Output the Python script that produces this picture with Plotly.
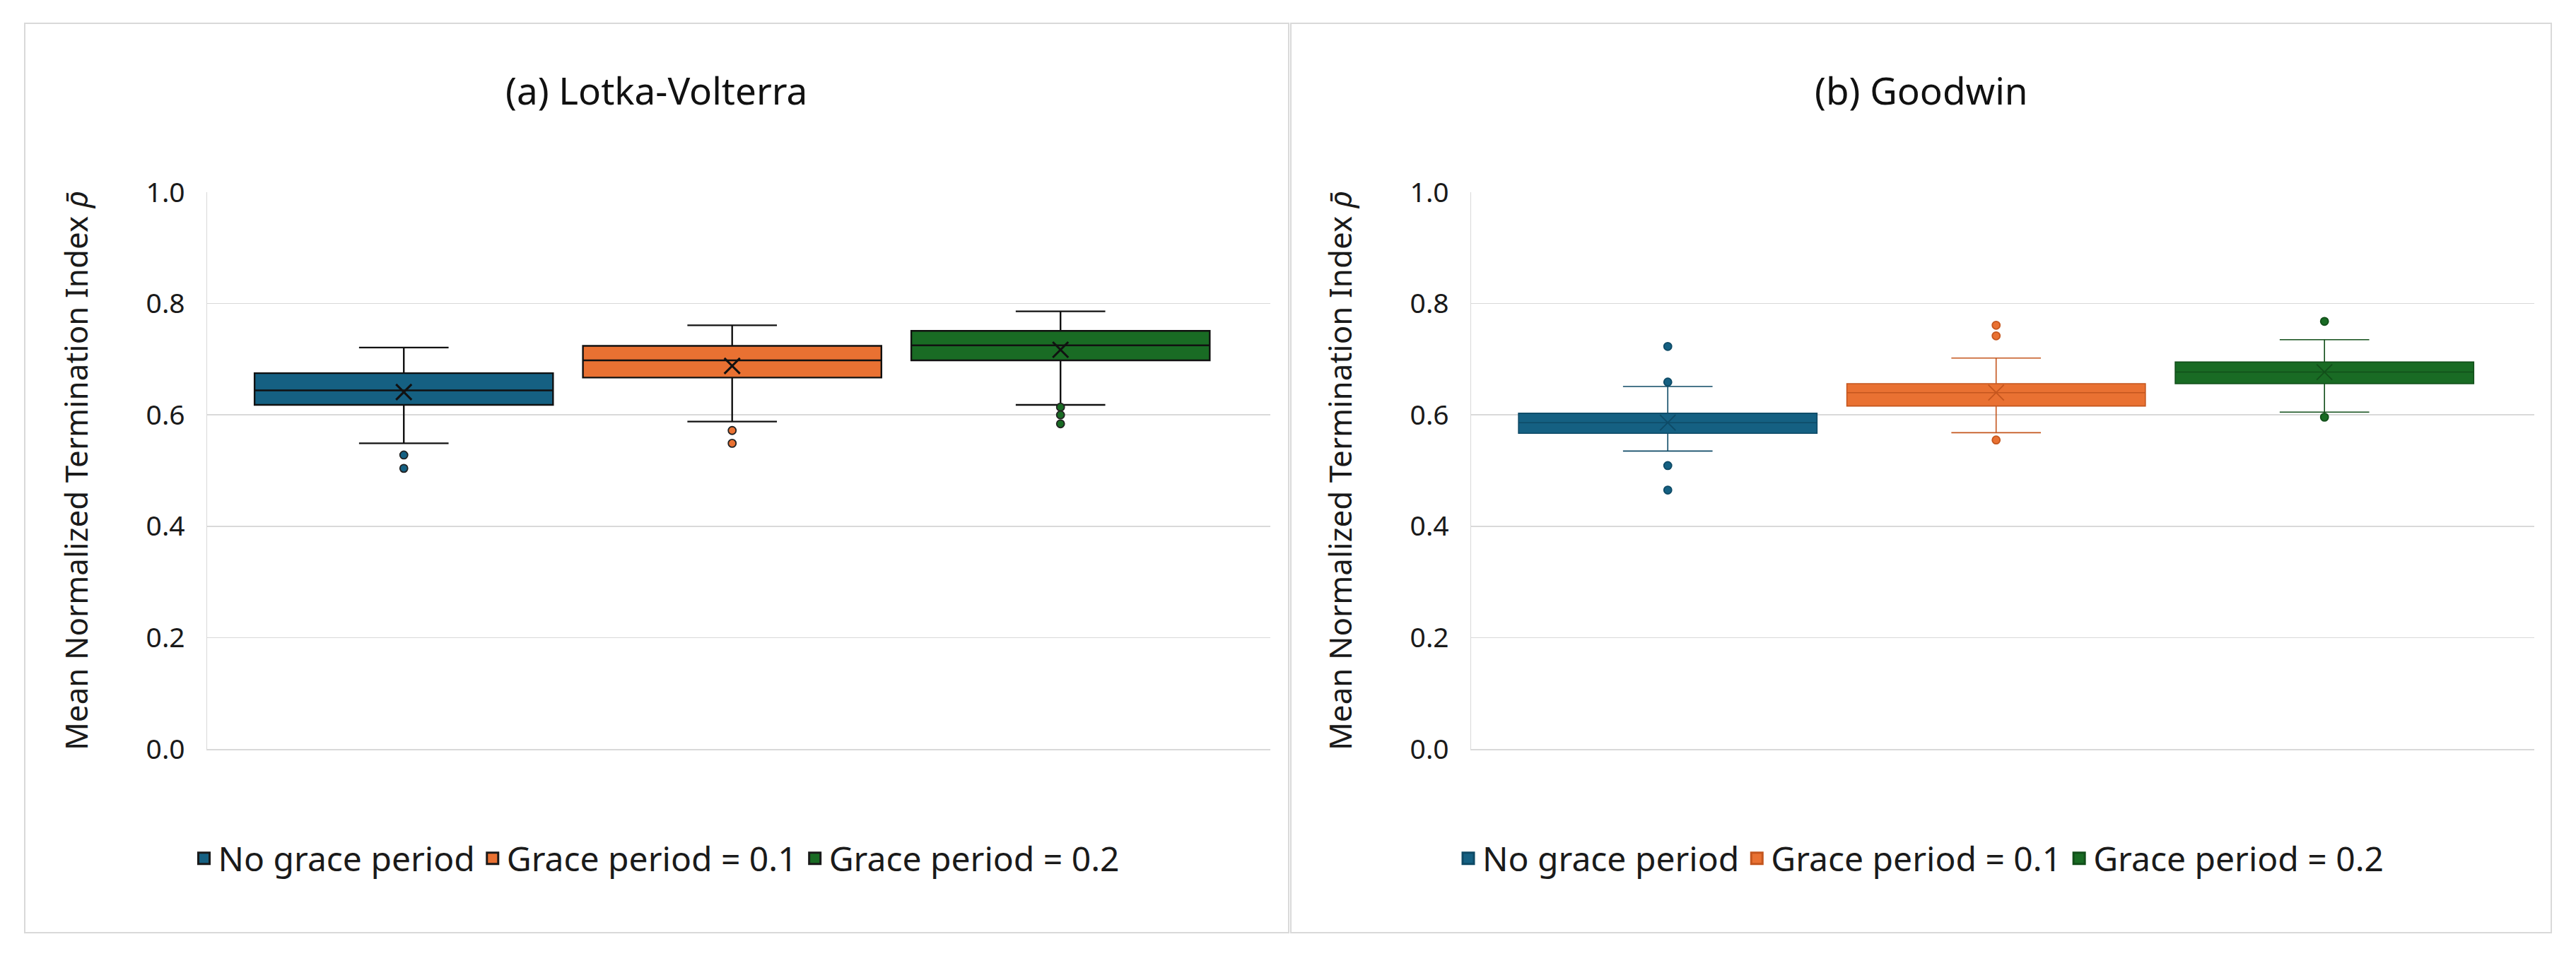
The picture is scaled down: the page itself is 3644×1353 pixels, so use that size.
import plotly.graph_objects as go

# ---------------- data ----------------
categories = ["No grace period", "Grace period = 0.1", "Grace period = 0.2"]

# (a) Lotka-Volterra
lv_q1 = [0.618, 0.667, 0.698]
lv_median = [0.644, 0.698, 0.725]
lv_q3 = [0.675, 0.724, 0.751]
lv_lower = [0.549, 0.588, 0.618]
lv_upper = [0.721, 0.761, 0.786]
lv_mean = [0.641, 0.688, 0.717]
lv_outliers = [[0.528, 0.504], [0.572, 0.549], [0.614, 0.600, 0.584]]

# (b) Goodwin
gw_q1 = [0.567, 0.616, 0.656]
gw_median = [0.586, 0.640, 0.677]
gw_q3 = [0.603, 0.656, 0.695]
gw_lower = [0.535, 0.568, 0.605]
gw_upper = [0.651, 0.702, 0.735]
gw_mean = [0.586, 0.640, 0.677]
gw_outliers = [[0.723, 0.659, 0.509, 0.465], [0.761, 0.742, 0.555], [0.768, 0.596]]

y_ticks = [0.0, 0.2, 0.4, 0.6, 0.8, 1.0]
panel_titles = ["(a) Lotka-Volterra", "(b) Goodwin"]
y_title = "Mean Normalized Termination Index <i>ρ̄</i>"

# ---------------- style ----------------
fill_colors = ["#156082", "#E97132", "#196B24"]
dark_colors = ["#0E4A66", "#C4561E", "#124F1A"]
FONT = "Noto Sans"
W, H = 3644, 1353
GRID = "#D9D9D9"


def px_x(p):
    return p / W


def px_y(p):
    return 1 - p / H


fig = go.Figure()

panels = [
    dict(q1=lv_q1, med=lv_median, q3=lv_q3, lo=lv_lower, hi=lv_upper, mean=lv_mean,
         outs=lv_outliers, xa="x", ya="y", legend="legend", dark=False),
    dict(q1=gw_q1, med=gw_median, q3=gw_q3, lo=gw_lower, hi=gw_upper, mean=gw_mean,
         outs=gw_outliers, xa="x2", ya="y2", legend="legend2", dark=True),
]

for p in panels:
    for i, cat in enumerate(categories):
        line_col = dark_colors[i] if p["dark"] else "#111111"
        lw = 1.6 if p["dark"] else 2.4
        fig.add_trace(go.Box(
            x=[cat], q1=[p["q1"][i]], median=[p["med"][i]], q3=[p["q3"][i]],
            lowerfence=[p["lo"][i]], upperfence=[p["hi"][i]],
            fillcolor=fill_colors[i], line=dict(color=line_col, width=lw),
            width=0.909, whiskerwidth=0.3, boxpoints=False,
            showlegend=False, hoverinfo="skip", xaxis=p["xa"], yaxis=p["ya"],
        ))
        # outliers
        fig.add_trace(go.Scatter(
            x=[cat] * len(p["outs"][i]), y=p["outs"][i], mode="markers",
            marker=dict(size=11, color=fill_colors[i],
                        line=dict(width=1.8, color=dark_colors[i] if p["dark"] else "#222222")),
            showlegend=False, hoverinfo="skip", xaxis=p["xa"], yaxis=p["ya"],
        ))
    # means
    fig.add_trace(go.Scatter(
        x=categories, y=p["mean"], mode="markers",
        marker=dict(symbol="x-thin", size=22,
                    line=dict(width=1.8 if p["dark"] else 3,
                              color=dark_colors if p["dark"] else "#111111")),
        showlegend=False, hoverinfo="skip", xaxis=p["xa"], yaxis=p["ya"],
    ))
    # legend entries
    for i, cat in enumerate(categories):
        fig.add_trace(go.Scatter(
            x=[None], y=[None], mode="markers", name=cat,
            marker=dict(symbol="square", size=16, color=fill_colors[i],
                        line=dict(width=3, color=dark_colors[i] if p["dark"] else "#1a1a1a")),
            legend=p["legend"], xaxis=p["xa"], yaxis=p["ya"], hoverinfo="skip",
        ))

xr = [-0.599, 2.639]
xaxis_common = dict(type="category", categoryorder="array", categoryarray=categories,
                    range=xr, showticklabels=False, showgrid=False, zeroline=False,
                    showline=True, linecolor=GRID, linewidth=1.5, ticks="", fixedrange=True)
yaxis_common = dict(range=[0, 1], tickvals=y_ticks, tickformat=".1f",
                    showgrid=True, gridcolor=GRID, gridwidth=1.5, zeroline=False,
                    showline=True, linecolor=GRID, linewidth=1.5, ticks="",
                    ticklabelstandoff=22,
                    tickfont=dict(family=FONT, size=39, color="#1a1a1a"),
                    title=dict(text=y_title, font=dict(family=FONT, size=44, color="#1a1a1a"),
                               standoff=68),
                    automargin=False, fixedrange=True)

plot_top, plot_bot = 272, 1060
frames = [(35, 1823), (1826, 3609)]
plot_x = [(293, 1797), (2081, 3585)]

layout = dict(
    width=W, height=H, margin=dict(l=0, r=0, t=0, b=0),
    paper_bgcolor="white", plot_bgcolor="white",
    font=dict(family=FONT, color="#1a1a1a"),
    xaxis=dict(domain=[px_x(plot_x[0][0]), px_x(plot_x[0][1])], anchor="y", **xaxis_common),
    yaxis=dict(domain=[px_y(plot_bot), px_y(plot_top)], anchor="x", **yaxis_common),
    xaxis2=dict(domain=[px_x(plot_x[1][0]), px_x(plot_x[1][1])], anchor="y2", **xaxis_common),
    yaxis2=dict(domain=[px_y(plot_bot), px_y(plot_top)], anchor="x2", **yaxis_common),
    showlegend=True,
    hovermode=False,
)

for k, (f0, f1) in zip(["legend", "legend2"], frames):
    layout[k] = dict(orientation="h", x=px_x((f0 + f1) / 2), xanchor="center",
                     y=px_y(1215), yanchor="middle",
                     font=dict(family=FONT, size=48, color="#1a1a1a"),
                     bgcolor="rgba(0,0,0,0)", itemclick=False, itemdoubleclick=False)

fig.update_layout(**layout)

shapes = []
for f0, f1 in frames:
    shapes.append(dict(type="rect", xref="paper", yref="paper",
                       x0=px_x(f0), x1=px_x(f1), y0=px_y(1320), y1=px_y(33),
                       line=dict(color=GRID, width=2), fillcolor="rgba(0,0,0,0)", layer="below"))
fig.update_layout(shapes=shapes)

for (f0, f1), t in zip(frames, panel_titles):
    fig.add_annotation(text=t, xref="paper", yref="paper", x=px_x((f0 + f1) / 2), y=px_y(127),
                       xanchor="center", yanchor="middle", showarrow=False,
                       font=dict(family=FONT, size=53, color="#111111"))

fig.write_html("out.html", config={"displayModeBar": False, "staticPlot": True},
               post_script="document.body.style.margin='0';document.body.style.overflow='hidden';")
